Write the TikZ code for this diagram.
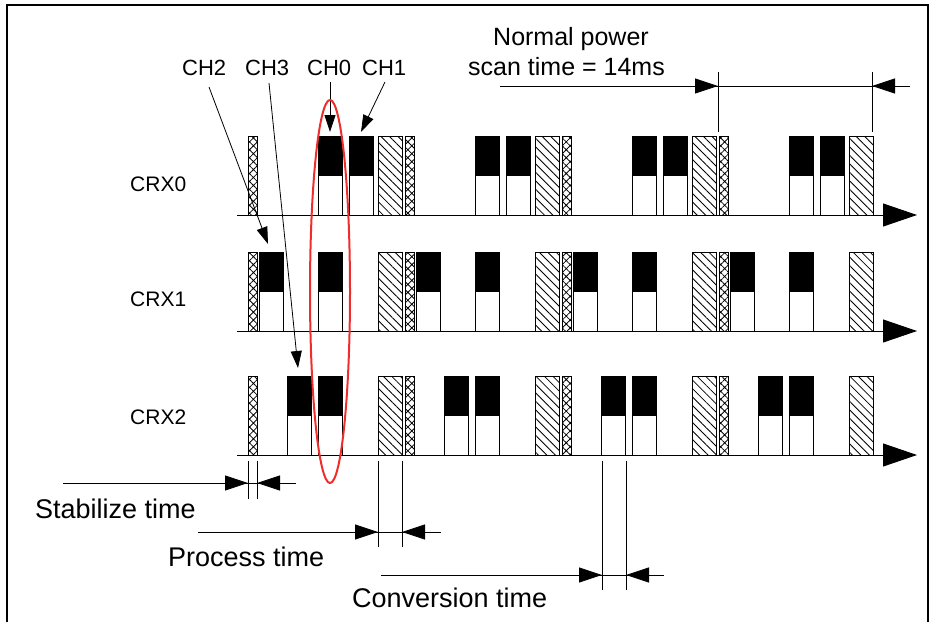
\documentclass[tikz,border=0pt]{standalone}
\usepackage{fontspec}
\setmainfont{Liberation Sans}
\usetikzlibrary{arrows.meta,patterns.meta}
\definecolor{selred}{RGB}{240,45,45}
\begin{document}
\begin{tikzpicture}[x=1pt,y=-1pt,
  chbox/.style={draw=black, line width=0.8pt, minimum width=24pt, minimum height=79pt,
    inner sep=0pt, outer sep=0pt, anchor=south west,
    path picture={\fill[black] (path picture bounding box.north west) rectangle (path picture bounding box.east);}},
  hbox/.style={draw=black, line width=0.8pt, minimum width=24pt, minimum height=79pt,
    inner sep=0pt, outer sep=0pt, anchor=south west,
    pattern={Lines[angle=-45,distance=6pt,line width=0.85pt]}},
  xbox/.style={draw=black, line width=0.8pt, minimum width=9pt, minimum height=79pt,
    inner sep=0pt, outer sep=0pt, anchor=south west,
    pattern={Hatch[angle=45,distance=5.6pt,line width=0.8pt]}},
  axisline/.style={line width=0.9pt, -{Triangle[length=34pt,width=23pt]}},
  dimline/.style={line width=0.8pt},
  dimtip/.style={line width=0.8pt, -{Triangle[length=23pt,width=15pt]}},
  chtip/.style={line width=0.8pt, -{Triangle[length=17pt,width=11pt]}},
  lab/.style={font=\fontsize{22}{26}\selectfont, anchor=base west, inner sep=0pt},
  rowlab/.style={font=\fontsize{21}{25}\selectfont, anchor=base west, inner sep=0pt},
  toplab/.style={font=\fontsize{25}{30}\selectfont, anchor=base west, inner sep=0pt},
  botlab/.style={font=\fontsize{27}{32}\selectfont, anchor=base west, inner sep=0pt}
]
\useasboundingbox (0,0) rectangle (934,621);
\begin{scope}
\clip (0,0) rectangle (934,621);
\draw[line width=1.6pt] (7,630) -- (7,5) -- (928,5) -- (928,630);
\end{scope}

% axes
\foreach \r/\ay in {0/215,1/331,2/455}{
  \coordinate (ax\r s) at (237,\ay);
  \coordinate (ax\r e) at (917,\ay);
  \draw[axisline] (ax\r s) -- (ax\r e);
}

% boxes in each period
\foreach \k in {0,1,2,3}{
  \pgfmathsetmacro{\c}{248+157*\k}
  \foreach \r/\ay in {0/215,1/331,2/455}{
    \node[xbox] (x\r-\k) at (\c,\ay) {};
    \node[hbox] (h\r-\k) at (\c+130,\ay) {};
    \node[chbox] (c\r-0-\k) at (\c+70.5,\ay) {};
  }
  \node[chbox] (c0-1-\k) at (\c+101.5,215) {};
  \node[chbox] (c1-2-\k) at (\c+11,331) {};
  \node[chbox] (c2-3-\k) at (\c+39,455) {};
}

% row labels
\node[rowlab] (crx0) at (130,191) {CRX0};
\node[rowlab] (crx1) at (130,306) {CRX1};
\node[rowlab] (crx2) at (130,424) {CRX2};

% channel labels and arrows
\node[lab] (ch2) at (182,75) {CH2};
\node[lab] (ch3) at (245,75) {CH3};
\node[lab] (ch0) at (307,75) {CH0};
\node[lab] (ch1) at (362,75) {CH1};
\coordinate (ch2a) at (209,87);
\coordinate (ch3a) at (269,83);
\coordinate (ch0a) at (330,82);
\coordinate (ch1a) at (385,82);
\coordinate (ch2t) at (268,244);
\coordinate (ch3t) at (298,368);
\coordinate (ch0t) at (330,132);
\coordinate (ch1t) at (361,132);
\draw[chtip] (ch2a) -- (ch2t);
\draw[chtip] (ch3a) -- (ch3t);
\draw[chtip] (ch0a) -- (ch0t);
\draw[chtip] (ch1a) -- (ch1t);

% selection ellipse
\draw[selred, line width=2pt] (330,291.5) ellipse [x radius=20, y radius=191.5];

% scan time dimension
\node[toplab] (np1) at (493,45) {Normal power};
\node[toplab] (np2) at (468,75) {scan time = 14ms};
\coordinate (sc1t) at (718,72); \coordinate (sc1b) at (718,132);
\coordinate (sc2t) at (872,72); \coordinate (sc2b) at (872,132);
\coordinate (scL) at (500,86); \coordinate (scA) at (718,86);
\coordinate (scR) at (910,86); \coordinate (scB) at (872,86);
\draw[dimline] (sc1t) -- (sc1b);
\draw[dimline] (sc2t) -- (sc2b);
\draw[dimline] (scL) -- (scR);
\draw[dimtip] (scL) -- (scA);
\draw[dimtip] (scR) -- (scB);

% stabilize time
\node[botlab] (stab) at (35,518) {Stabilize time};
\coordinate (st1t) at (248,461); \coordinate (st1b) at (248,499);
\coordinate (st2t) at (257,461); \coordinate (st2b) at (257,499);
\coordinate (stL) at (63,483); \coordinate (stA) at (248,483);
\coordinate (stR) at (296,483); \coordinate (stB) at (257,483);
\draw[dimline] (st1t) -- (st1b);
\draw[dimline] (st2t) -- (st2b);
\draw[dimline] (stL) -- (stR);
\draw[dimtip] (stL) -- (stA);
\draw[dimtip] (stR) -- (stB);

% process time
\node[botlab] (proc) at (168,566) {Process time};
\coordinate (pr1t) at (378,461); \coordinate (pr1b) at (378,547);
\coordinate (pr2t) at (402,461); \coordinate (pr2b) at (402,547);
\coordinate (prL) at (198,532); \coordinate (prA) at (378,532);
\coordinate (prR) at (441,532); \coordinate (prB) at (402,532);
\draw[dimline] (pr1t) -- (pr1b);
\draw[dimline] (pr2t) -- (pr2b);
\draw[dimline] (prL) -- (prR);
\draw[dimtip] (prL) -- (prA);
\draw[dimtip] (prR) -- (prB);

% conversion time
\node[botlab] (conv) at (352,607) {Conversion time};
\coordinate (cv1t) at (602,461); \coordinate (cv1b) at (602,590);
\coordinate (cv2t) at (626,461); \coordinate (cv2b) at (626,590);
\coordinate (cvL) at (381,575); \coordinate (cvA) at (602,575);
\coordinate (cvR) at (664,575); \coordinate (cvB) at (626,575);
\draw[dimline] (cv1t) -- (cv1b);
\draw[dimline] (cv2t) -- (cv2b);
\draw[dimline] (cvL) -- (cvR);
\draw[dimtip] (cvL) -- (cvA);
\draw[dimtip] (cvR) -- (cvB);
\end{tikzpicture}
\end{document}
